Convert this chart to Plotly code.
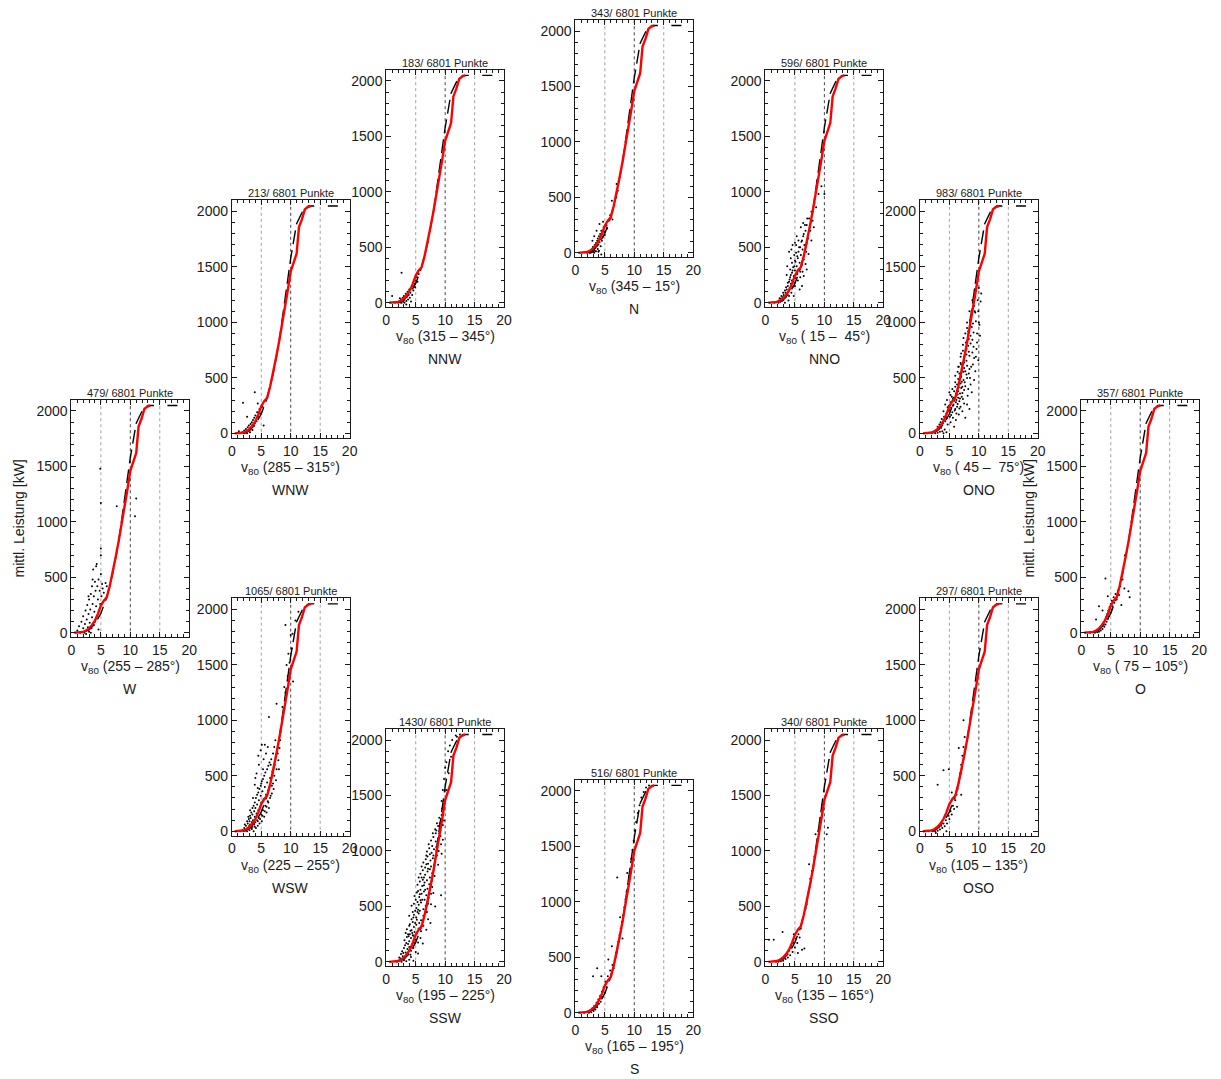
import plotly.graph_objects as go

# --- data ---------------------------------------------------------------
SECTORS = ["N", "NNO", "ONO", "O", "OSO", "SSO", "S", "SSW", "WSW", "W", "WNW", "NNW"]
COUNTS = [343, 596, 983, 357, 297, 340, 516, 1430, 1065, 479, 213, 183]
TOTAL = 6801
RANGES = ["(345 – 15°)", "(\u00a015 –\u00a0\u00a045°)", "(\u00a045 –\u00a0\u00a075°)", "(\u00a075 – 105°)",
          "(105 – 135°)", "(135 – 165°)", "(165 – 195°)", "(195 – 225°)",
          "(225 – 255°)", "(255 – 285°)", "(285 – 315°)", "(315 – 345°)"]

# measured mean power curve (red) and manufacturer curve (dashed)
RED_V = [0.5, 1.5, 2.0, 2.5, 3.0, 3.5, 4.0, 4.5, 5.0, 5.5, 6.0, 6.5, 7.0, 7.5, 8.0, 8.5,
         9.0, 9.5, 10.0, 10.5, 11.0, 11.4, 11.9, 12.4, 12.9, 13.4]
RED_P = [0, 3, 8, 20, 40, 70, 110, 170, 245, 290, 320, 420, 540, 680, 820, 965,
         1120, 1290, 1460, 1550, 1620, 1860, 1930, 2020, 2040, 2050]
DASH_V = [2.0, 3, 4, 5, 6, 7, 8, 9, 10, 11, 12, 13, 14, None, 16.3, 18]
DASH_P = [3, 25, 82, 174, 321, 532, 815, 1180, 1580, 1890, 2000, 2050, 2050, None, 2050, 2050]

X_TICKS = [0, 5, 10, 15, 20]
Y_TICKS = [0, 500, 1000, 1500, 2000]
GUIDE_V = [5, 10, 15]

N_PTS = [(2.0, 0), (2.2, 5), (2.4, 2), (2.5, 15), (2.6, 0), (2.7, 25), (2.8, 8), (2.9, 40), (3.0, 10),
         (3.0, 55), (3.1, 30), (3.2, 0), (3.3, 70), (3.3, 20), (3.4, 45), (3.5, 90), (3.5, 15), (3.6, 60),
         (3.7, 110), (3.8, 35), (3.8, 130), (3.9, 75), (4.0, 150), (4.0, 20), (4.1, 95), (4.2, 170),
         (4.3, 60), (4.3, 125), (4.4, 200), (4.5, 110), (4.6, 175), (4.7, 145), (4.8, 230), (4.9, 190),
         (5.0, 160), (5.1, 240), (3.2, 150), (3.6, 200), (4.1, 260), (2.9, 110), (5.3, 250), (5.6, 290),
         (5.9, 340), (6.1, 320), (6.3, 300), (6.6, 430), (6.9, 500), (7.2, 560), (4.7, 280), (5.4, 220),
         (3.9, 10), (4.4, -15), (7.0, 620), (6.2, 470)]
NNO_PTS = [(1.5, 0), (1.8, 5), (2.0, 10), (2.2, 0), (2.3, 20), (2.5, 8), (2.6, 35), (2.8, 15), (2.9, 50),
           (3.0, 25), (3.1, 70), (3.2, 40), (3.3, 0), (3.4, 90), (3.5, 55), (3.6, 120), (3.7, 75), (3.8, 150),
           (3.9, 100), (4.0, 60), (4.0, 190), (4.1, 130), (4.2, 230), (4.3, 170), (4.4, 90), (4.5, 270),
           (4.5, 200), (4.6, 140), (4.7, 320), (4.8, 240), (4.9, 180), (5.0, 380), (5.0, 290), (5.1, 220),
           (5.2, 450), (5.3, 330), (5.4, 260), (5.5, 400), (5.6, 300), (5.7, 500), (5.8, 360), (5.9, 280),
           (6.0, 430), (6.1, 550), (6.2, 340), (6.3, 480), (6.4, 600), (6.5, 390), (6.6, 520), (6.8, 650),
           (6.9, 460), (7.0, 700), (7.2, 580), (7.4, 760), (7.6, 650), (7.8, 820), (8.0, 740), (8.3, 900),
           (8.6, 860), (9.0, 980), (9.5, 1050), (10.0, 980), (4.0, 460), (4.3, 400), (3.7, 330), (4.6, 520),
           (5.3, 600), (6.2, 150), (7.0, 300), (5.8, 120), (6.5, 240), (3.9, 20), (4.8, 60), (8.8, 1100),
           (2.4, 40), (2.7, 60), (3.0, 90), (3.3, 110), (3.5, 140), (3.8, 180), (4.1, 210), (4.3, 250),
           (4.6, 290), (4.9, 330), (5.1, 370), (5.4, 420), (5.6, 460), (5.9, 500), (6.2, 560), (6.5, 620),
           (6.7, 700), (7.1, 760), (4.2, 300), (4.5, 360), (4.9, 430), (5.2, 520), (5.6, 560), (6.0, 680),
           (6.4, 720), (5.0, 150), (5.5, 200), (5.9, 230), (6.3, 280), (6.8, 350), (7.3, 440), (7.8, 560),
           (8.2, 680), (3.6, 250), (4.4, 480), (5.0, 540)]
ONO_PTS = [(2.0, 0), (2.3, 10), (2.6, 0), (2.8, 25), (3.0, 5), (3.2, 40), (3.4, 15), (3.6, 50), (3.8, 20),
           (4.0, 0), (4.2, 35), (4.5, 10), (3.5, 100), (3.9, 90), (4.3, 110), (4.7, 80), (5.2, 100), (5.8, 60),
           (4.0, 200), (4.5, 180), (5.0, 210), (5.5, 190), (6.0, 220), (6.6, 170), (7.2, 200),
           (4.6, 300), (5.2, 280), (5.7, 320), (6.2, 300), (6.7, 290), (7.3, 310), (8.0, 260),
           (5.5, 400), (6.0, 420), (6.5, 380), (7.0, 410), (7.5, 390), (8.2, 400), (8.8, 370),
           (6.0, 520), (6.5, 490), (7.0, 510), (7.4, 480), (7.9, 530), (8.5, 500), (9.2, 480),
           (6.6, 600), (7.0, 620), (7.5, 590), (8.0, 610), (8.4, 580), (9.0, 620),
           (7.0, 720), (7.5, 690), (7.9, 710), (8.4, 700), (8.9, 730), (9.5, 690),
           (7.3, 800), (7.8, 820), (8.2, 790), (8.6, 810), (9.1, 780), (9.7, 820),
           (7.7, 900), (8.2, 920), (8.6, 880), (9.1, 910), (9.7, 900),
           (8.0, 1000), (8.5, 1020), (9.0, 990), (9.5, 1010), (10.1, 980),
           (8.4, 1100), (8.9, 1120), (9.4, 1090), (9.9, 1100), (8.9, 1200), (9.4, 1230), (10.3, 1190),
           (9.3, 1300), (10.0, 1310), (5.1, 150), (6.1, 120), (7.7, 140), (4.3, 260), (5.0, 370), (8.4, 220),
           (5.6, 250), (6.4, 350), (6.9, 450), (7.7, 560), (6.3, 240), (7.1, 330),
           (3.0, 60), (3.3, 80), (3.7, 130), (4.1, 150), (4.4, 160), (4.8, 200), (5.3, 230), (5.7, 260),
           (6.1, 280), (6.5, 320), (6.8, 360), (7.2, 420), (7.6, 460), (8.0, 500), (8.3, 540), (8.7, 600),
           (9.2, 680), (9.6, 760), (4.9, 250), (5.4, 330), (5.8, 380), (6.3, 440), (6.7, 540), (7.1, 580),
           (7.5, 640), (7.9, 760), (8.3, 850), (8.8, 960), (9.3, 1100), (9.8, 1200), (10.0, 1000),
           (10.4, 1260), (4.0, 120), (4.6, 140), (5.6, 140), (6.2, 180), (6.9, 240), (7.5, 270), (8.1, 340),
           (8.6, 440), (9.4, 560), (9.9, 660), (10.2, 880), (6.0, 460), (6.5, 600), (6.9, 690), (7.4, 860),
           (8.0, 950), (8.6, 1050), (9.2, 1150),
           (5.3, 165), (5.9, 205), (6.4, 265), (6.8, 315), (7.2, 365), (7.7, 425), (5.6, 310), (6.1, 355),
           (6.6, 415), (7.1, 465), (4.7, 235), (5.2, 345), (6.7, 225), (7.4, 555), (7.9, 655), (8.3, 735),
           (8.9, 845), (6.4, 555), (6.9, 635), (7.3, 745)]
O_PTS = [(1.5, 0), (2.0, 5), (2.3, 0), (2.5, 15), (2.7, 5), (2.9, 25), (3.0, 10), (3.2, 40), (3.3, 20),
         (3.5, 60), (3.6, 35), (3.8, 80), (3.9, 55), (4.0, 110), (4.1, 75), (4.2, 140), (4.3, 100), (4.4, 170),
         (4.5, 125), (4.6, 200), (4.7, 150), (4.8, 230), (4.9, 180), (5.0, 260), (5.1, 210), (5.2, 290),
         (5.3, 240), (5.5, 320), (5.6, 270), (5.8, 350), (6.0, 300), (6.2, 380), (6.4, 340), (6.6, 420),
         (7.0, 480), (4.1, 490), (3.0, 240), (7.4, 700), (8.2, 320), (8.0, 375), (2.5, 120), (6.8, 250),
         (7.3, 400), (3.6, 200), (4.5, 330)]
OSO_PTS = [(1.5, 0), (2.0, 5), (2.2, 0), (2.4, 10), (2.6, 0), (2.8, 20), (3.0, 5), (3.2, 35), (3.4, 15),
           (3.6, 50), (3.8, 30), (4.0, 70), (4.2, 45), (4.4, 100), (4.6, 70), (4.8, 140), (5.0, 110),
           (5.2, 180), (5.4, 150), (5.6, 230), (5.8, 200), (6.0, 280), (6.2, 330), (6.4, 380), (6.6, 440),
           (6.8, 520), (7.0, 600), (7.2, 680), (7.4, 760), (7.6, 850), (3.0, 420), (4.0, 550), (4.9, 560),
           (7.4, 1000), (6.6, 750), (5.9, 300), (6.3, 220), (5.4, 350), (7.0, 330), (2.7, -15), (4.5, 0)]
SSO_PTS = [(0.6, 200), (1.4, 200), (2.9, 270), (1.8, 0), (2.0, 10), (2.2, 0), (2.4, 20), (2.6, 5), (2.8, 35),
           (3.0, 10), (3.2, 50), (3.4, 25), (3.6, 70), (3.8, 40), (4.0, 100), (4.2, 60), (4.4, 130), (4.6, 90),
           (4.8, 170), (5.0, 130), (5.2, 210), (5.4, 170), (5.6, 250), (5.8, 220), (6.0, 300), (6.2, 110),
           (6.6, 120), (6.8, 480), (7.0, 520), (7.3, 620), (7.6, 750), (7.9, 820), (8.3, 950), (8.6, 1030),
           (9.0, 1180), (9.3, 1300), (9.6, 1420), (10.6, 1210), (10.4, 1150), (5.5, 80), (4.8, 250),
           (7.4, 880), (8.5, 1150)]
S_PTS = [(1.5, 0), (2.0, 10), (2.3, 0), (2.5, 20), (2.7, 5), (2.9, 40), (3.1, 15), (3.2, 60), (3.4, 30),
         (3.6, 90), (3.7, 50), (3.9, 120), (4.0, 80), (4.2, 150), (4.3, 100), (4.5, 190), (4.6, 140),
         (4.8, 230), (5.0, 180), (5.1, 280), (5.3, 230), (5.5, 330), (5.7, 290), (5.9, 380), (6.1, 350),
         (6.3, 430), (6.5, 400), (6.7, 480), (6.9, 540), (7.1, 580), (7.3, 640), (7.5, 700), (7.7, 760),
         (7.9, 820), (8.1, 880), (8.3, 950), (8.5, 1020), (8.7, 1090), (8.9, 1160), (9.1, 1230), (9.3, 1300),
         (9.5, 1390), (9.7, 1470), (9.9, 1550), (10.1, 1640), (10.3, 1720), (10.6, 1800), (10.9, 1870),
         (11.2, 1940), (11.6, 1990), (12.0, 2030), (12.5, 2050), (3.7, 400), (3.0, 330), (7.1, 1220),
         (8.0, 670), (7.6, 860), (5.6, 480), (6.2, 600), (4.4, 330), (8.8, 1260)]
SSW_PTS = [(1.8, 0), (2.1, 10), (2.4, 30), (2.6, 0), (2.8, 50), (3.0, 15), (3.2, 40), (3.4, 5), (3.6, 60),
           (3.9, 20), (4.2, 45), (4.6, 10), (2.7, 95), (3.0, 125), (3.3, 85), (3.6, 115), (3.9, 135),
           (4.2, 100), (4.6, 125), (5.0, 90), (5.4, 75), (3.1, 195), (3.5, 225), (3.9, 185), (4.2, 215),
           (4.6, 235), (5.0, 200), (5.4, 175), (5.8, 215), (6.2, 165), (3.5, 295), (3.9, 325), (4.3, 285),
           (4.7, 315), (5.1, 335), (5.5, 300), (5.9, 275), (6.3, 325), (6.8, 290), (3.9, 415), (4.3, 385),
           (4.7, 425), (5.1, 400), (5.5, 435), (5.9, 375), (6.3, 415), (6.7, 445), (7.1, 385), (4.3, 505),
           (4.7, 525), (5.1, 485), (5.5, 515), (5.9, 535), (6.3, 475), (6.7, 505), (7.1, 525), (4.8, 595),
           (5.2, 625), (5.6, 585), (6.0, 615), (6.4, 635), (6.8, 600), (7.2, 575), (7.6, 615), (5.3, 695),
           (5.7, 725), (6.1, 685), (6.5, 715), (6.9, 735), (7.3, 700), (7.8, 675), (5.8, 795), (6.2, 825),
           (6.6, 785), (7.0, 815), (7.4, 835), (7.8, 800), (8.2, 775), (6.3, 895), (6.7, 925), (7.1, 885),
           (7.5, 915), (7.9, 935), (8.3, 900), (8.8, 875), (6.9, 995), (7.3, 1025), (7.7, 985), (8.1, 1015),
           (8.5, 1035), (8.9, 1000), (9.4, 975), (7.6, 1095), (8.0, 1125), (8.4, 1085), (8.8, 1115),
           (9.2, 1135), (9.6, 1100), (8.3, 1195), (8.8, 1225), (9.2, 1185), (9.6, 1235), (9.0, 1300),
           (9.4, 1325), (9.8, 1275), (9.4, 1450), (9.6, 1550), (9.8, 1650), (10.0, 1750), (10.2, 1800),
           (10.5, 1900), (10.8, 1950), (11.2, 2000), (11.8, 2040), (12.5, 2050), (12.0, 2030), (8.3, 500),
           (9.3, 600), (7.5, 350),
           (2.2, 40), (2.5, 70), (2.9, 80), (3.2, 150), (3.4, 170), (3.7, 160), (4.0, 250), (4.4, 160),
           (4.4, 260), (4.8, 170), (4.9, 350), (5.2, 260), (5.3, 450), (5.6, 350), (5.7, 460), (6.0, 330),
           (6.1, 560), (6.5, 560), (6.6, 650), (6.9, 450), (7.0, 660), (7.4, 760), (7.6, 860), (7.7, 730),
           (8.0, 960), (8.2, 870), (8.4, 1160), (8.6, 960), (8.7, 1060), (9.0, 1160), (9.1, 1250), (9.3, 1060),
           (9.5, 1380), (9.7, 1420), (5.0, 560), (5.4, 640), (5.5, 760), (6.0, 860), (6.4, 760), (6.8, 960),
           (7.2, 1060), (7.0, 950), (6.6, 850), (6.2, 740), (5.8, 650), (5.3, 540), (4.9, 460), (4.5, 360),
           (4.1, 280), (3.7, 250), (3.3, 260), (4.0, 340), (4.5, 450), (7.9, 1160), (8.6, 1250), (10.2, 1550),
           (10.6, 1700), (11.0, 1850), (7.6, 520), (8.0, 620),
           (4.1, 65), (4.5, 240), (5.2, 380), (5.8, 555), (6.4, 690), (7.1, 840), (7.8, 1045), (8.5, 1185),
           (4.8, 270), (5.4, 470), (6.0, 760), (6.8, 880), (7.4, 970), (3.8, 230), (4.6, 400), (5.7, 610)]
WSW_PTS = [(1.5, 0), (1.8, 10), (2.0, 0), (2.1, 30), (2.3, 5), (2.4, 50), (2.5, 15), (2.6, 0), (2.7, 70),
           (2.8, 25), (2.9, 45), (3.0, 90), (3.0, 10), (3.1, 60), (3.2, 120), (3.3, 30), (3.4, 80), (3.5, 150),
           (3.5, 40), (3.6, 100), (3.7, 0), (3.8, 180), (3.8, 60), (3.9, 130), (4.0, 210), (4.0, 80), (4.1, 30),
           (4.2, 160), (4.3, 240), (4.3, 100), (4.4, 50), (4.5, 190), (4.6, 280), (4.6, 120), (4.7, 70),
           (4.8, 220), (4.9, 320), (5.0, 150), (5.0, 260), (5.1, 90), (5.2, 360), (5.3, 190), (5.4, 290),
           (5.5, 130), (5.6, 400), (5.7, 230), (5.8, 330), (5.9, 170), (6.0, 440), (6.1, 270), (6.2, 370),
           (6.3, 210), (6.5, 480), (6.6, 320), (6.8, 410), (6.9, 540), (7.1, 380), (7.3, 600), (7.5, 460),
           (7.8, 700), (8.0, 560), (4.2, 520), (4.6, 600), (4.9, 730), (5.1, 780), (5.4, 650), (5.8, 700),
           (6.1, 760), (6.3, 1030), (5.0, 430), (4.4, 390), (3.6, 300), (3.9, 420), (8.3, 900), (8.6, 1120),
           (8.9, 1100), (9.1, 1250), (9.5, 1400), (9.8, 1520), (10.0, 1770), (10.2, 1650), (9.1, 1860),
           (10.4, 1350), (10.8, 1900), (11.3, 1980), (7.6, 1150),
           (2.2, 60), (2.6, 90), (2.9, 110), (3.1, 140), (3.3, 170), (3.5, 210), (3.7, 230), (3.9, 260),
           (4.1, 300), (4.3, 330), (4.5, 350), (4.7, 380), (4.9, 410), (5.1, 450), (5.3, 470), (5.5, 500),
           (5.7, 530), (6.0, 560), (6.2, 590), (6.4, 620), (6.7, 650), (7.0, 700), (7.2, 760), (7.4, 820),
           (3.4, 20), (3.9, 40), (4.4, 90), (4.8, 110), (5.2, 140), (5.6, 180), (5.9, 220), (6.2, 260),
           (6.5, 300), (6.8, 340), (7.0, 430), (7.2, 500), (7.6, 560), (7.9, 640), (8.1, 750), (8.2, 820),
           (4.0, 480), (4.5, 680), (5.3, 560), (5.6, 780), (6.6, 600), (2.8, 130), (3.1, 190), (8.9, 1300),
           (9.3, 1500), (9.6, 1600), (10.3, 1780)]
W_PTS = [(1.0, 20), (1.3, 60), (1.5, 0), (1.7, 100), (1.8, 10), (2.0, 40), (2.0, 150), (2.2, 0), (2.3, 80),
         (2.4, 200), (2.5, 20), (2.6, 120), (2.7, 250), (2.8, 50), (2.9, 170), (3.0, 300), (3.0, 10),
         (3.1, 90), (3.2, 210), (3.3, 350), (3.4, 40), (3.5, 140), (3.5, 420), (3.6, 260), (3.7, 570),
         (3.8, 70), (3.8, 330), (3.9, 190), (4.0, 460), (4.0, 100), (4.1, 380), (4.2, 240), (4.3, 620),
         (4.3, 150), (4.4, 420), (4.5, 300), (4.6, 480), (4.7, 200), (4.8, 380), (4.9, 260), (5.0, 760),
         (5.0, 700), (5.0, 530), (4.9, 1480), (5.0, 1170), (5.1, 330), (5.2, 440), (5.3, 400), (5.5, 360),
         (5.8, 450), (6.0, 420), (7.7, 1140), (11.0, 1210), (10.8, 1050), (2.5, -10), (3.3, 0), (4.6, 30),
         (4.2, 600), (3.6, 480), (2.9, 330)]
WNW_PTS = [(1.2, 20), (1.5, 0), (1.8, 10), (2.0, 0), (2.1, 25), (2.3, 5), (2.4, 40), (2.5, 15), (2.6, 0),
           (2.7, 55), (2.8, 20), (2.9, 70), (3.0, 35), (3.1, 10), (3.2, 85), (3.3, 50), (3.4, 100), (3.5, 30),
           (3.6, 120), (3.7, 65), (3.8, 140), (3.9, 90), (4.0, 160), (4.2, 110), (4.3, 190), (4.5, 150),
           (4.7, 220), (4.9, 180), (5.2, 240), (3.9, 370), (1.9, 275), (5.4, 70), (2.6, 150), (4.4, 270)]
NNW_PTS = [(1.0, 60), (1.5, 0), (1.8, 5), (2.0, 0), (2.2, 10), (2.4, 2), (2.5, 30), (2.6, 0), (2.6, 270),
           (2.7, 18), (2.8, 45), (2.9, 8), (3.0, 60), (3.0, 25), (3.1, 0), (3.2, 40), (3.3, 80), (3.4, 15),
           (3.5, 55), (3.6, 100), (3.7, 30), (3.8, 70), (3.9, 120), (4.0, 45), (4.1, 90), (4.2, 10),
           (4.3, 130), (4.4, 70), (4.5, 150), (4.6, 110), (4.8, 170), (4.9, 140), (5.0, 200), (5.2, 230),
           (5.3, 190), (5.5, 260), (3.4, -15), (2.3, 40)]

POINTS = [N_PTS, NNO_PTS, ONO_PTS, O_PTS, OSO_PTS, SSO_PTS, S_PTS, SSW_PTS, WSW_PTS, W_PTS, WNW_PTS, NNW_PTS]

# --- layout (pixel boxes of each small panel, page coordinates) ----------
PAGE_OFF = 8                      # default body margin of the html page
W_PX, H_PX = 1221 - PAGE_OFF, 1079 - PAGE_OFF
BW, BH = 119, 238
BOXES = {"N": (577, 20), "NNO": (769, 70), "ONO": (925, 201), "O": (1088, 401),
         "OSO": (925, 600), "SSO": (769, 731), "S": (577, 782), "SSW": (386, 731),
         "WSW": (230, 600), "W": (68, 401), "WNW": (230, 201), "NNW": (386, 70)}
FONT = "Liberation Sans, Arial, Helvetica, sans-serif"
INK = "#1a1a1a"


def px(xp):
    return (xp - PAGE_OFF) / W_PX


def py(yp):
    return 1 - (yp - PAGE_OFF) / H_PX


fig = go.Figure()
layout = {}
annotations = []
shapes = []

for i, name in enumerate(SECTORS, start=1):
    left, top = BOXES[name]
    key = "" if i == 1 else str(i)
    xa, ya = "x" + key, "y" + key
    pts = POINTS[i - 1]

    fig.add_trace(go.Scatter(x=[p[0] for p in pts], y=[p[1] for p in pts], mode="markers",
                             marker=dict(color="black", size=2), xaxis=xa, yaxis=ya, hoverinfo="skip"))
    fig.add_trace(go.Scatter(x=DASH_V, y=DASH_P, mode="lines", xaxis=xa, yaxis=ya,
                             line=dict(color="black", width=1.4, dash="14px,6px"), hoverinfo="skip"))
    fig.add_trace(go.Scatter(x=RED_V, y=RED_P, mode="lines", xaxis=xa, yaxis=ya,
                             line=dict(color="#ff0000", width=2.4), hoverinfo="skip"))

    common = dict(showline=True, linecolor=INK, linewidth=1, mirror="allticks", ticks="inside",
                  ticklen=5, tickcolor=INK, showgrid=False, zeroline=False, fixedrange=True,
                  tickfont=dict(size=14, color=INK, family=FONT))
    layout["xaxis" + key] = dict(domain=[px(left), px(left + BW)], range=[0, 20], anchor=ya,
                                 tickmode="array", tickvals=X_TICKS,
                                 minor=dict(dtick=1, tick0=0, ticks="inside", ticklen=3, tickcolor=INK),
                                 **common)
    layout["yaxis" + key] = dict(domain=[py(top + BH), py(top)], range=[-40, 2100], anchor=xa,
                                 tickmode="array", tickvals=Y_TICKS,
                                 minor=dict(dtick=100, tick0=0, ticks="inside", ticklen=3, tickcolor=INK),
                                 **common)

    for g in GUIDE_V:
        shapes.append(dict(type="line", xref=xa, yref=f"{ya} domain", x0=g, x1=g, y0=0, y1=1,
                           line=dict(color="#444" if g == 10 else "#a0a0a0", width=1, dash="dot"),
                           layer="below"))

    cx = px(left + BW / 2)
    annotations.append(dict(text=f"{COUNTS[i - 1]}/ {TOTAL} Punkte", xref="paper", yref="paper",
                            x=cx, y=py(top - 7), xanchor="center", yanchor="middle",
                            showarrow=False, font=dict(size=11, color=INK, family=FONT)))
    annotations.append(dict(text=f"v<sub>80</sub> {RANGES[i - 1]}", xref="paper", yref="paper",
                            x=cx, y=py(top + BH + 30), xanchor="center", yanchor="middle",
                            showarrow=False, font=dict(size=14, color=INK, family=FONT)))
    annotations.append(dict(text=name, xref="paper", yref="paper",
                            x=cx, y=py(top + BH + 52), xanchor="center", yanchor="middle",
                            showarrow=False, font=dict(size=14, color=INK, family=FONT)))
    if name in ("W", "O"):
        annotations.append(dict(text="mittl. Leistung [kW]", xref="paper", yref="paper",
                                x=px(left - 53), y=py(top + BH / 2), textangle=-90,
                                xanchor="center", yanchor="middle", showarrow=False,
                                font=dict(size=14, color=INK, family=FONT)))

fig.update_layout(width=W_PX, height=H_PX, margin=dict(l=0, r=0, t=0, b=0), showlegend=False,
                  paper_bgcolor="white", plot_bgcolor="white", annotations=annotations, shapes=shapes,
                  font=dict(family=FONT, color=INK), **layout)
fig.write_html("out.html")
